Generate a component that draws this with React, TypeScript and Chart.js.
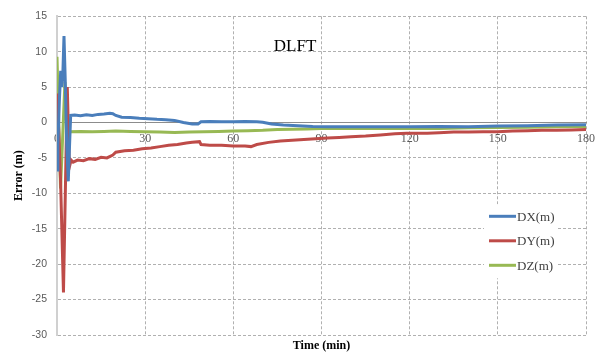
import React, { useEffect, useRef } from "react";
import { Chart, registerables } from "chart.js";

Chart.register(...registerables);

// ---- Data (time in minutes, error in metres) ----
const dxTime = [0, 0.3, 0.8, 1.26, 1.6, 2.0, 2.38, 2.8, 3.3, 3.84, 4.2, 4.65, 6, 8, 10, 12, 14, 16, 18, 19, 20, 22, 25, 28, 31, 34, 37, 40, 43, 46, 48, 49, 52, 56, 60, 64, 68, 70, 73, 77, 82, 87, 92, 100, 110, 120, 130, 140, 150, 160, 170, 180];
const dxValues = [-6.7, -3, 3, 7.3, 5, 7, 12.2, 6, -3, -8.3, -4, 1.0, 1.05, 0.95, 1.1, 1.0, 1.15, 1.2, 1.3, 1.25, 1.0, 0.75, 0.7, 0.6, 0.55, 0.45, 0.4, 0.3, 0.0, -0.2, -0.2, 0.1, 0.15, 0.1, 0.1, 0.15, 0.1, 0.05, -0.2, -0.35, -0.45, -0.55, -0.6, -0.6, -0.6, -0.6, -0.55, -0.6, -0.5, -0.45, -0.35, -0.3];

const dyTime = [0, 0.5, 1.2, 2.2, 3.5, 4.2, 4.8, 5.5, 7, 9, 11, 13, 15, 17, 19, 20, 23, 26, 29, 32, 35, 38, 41, 44, 46, 48.5, 49, 52, 56, 60, 64, 66, 68, 72, 76, 80, 84, 88, 92, 96, 100, 105, 110, 115, 119, 122, 126, 130, 135, 140, 145, 150, 155, 160, 165, 170, 175, 180];
const dyValues = [4.1, 0, -8, -24, 5.0, -6.3, -5.3, -5.6, -5.3, -5.4, -5.1, -5.2, -4.9, -5.0, -4.6, -4.2, -4.0, -3.9, -3.7, -3.6, -3.4, -3.2, -3.1, -2.9, -2.8, -2.7, -3.1, -3.2, -3.2, -3.3, -3.3, -3.4, -3.1, -2.8, -2.6, -2.5, -2.4, -2.3, -2.2, -2.1, -2.0, -1.9, -1.75, -1.6, -1.5, -1.5, -1.5, -1.45, -1.35, -1.35, -1.3, -1.3, -1.2, -1.15, -1.1, -1.1, -1.05, -1.0];

const dzTime = [0, 1.2, 2.7, 3.5, 4.4, 8, 12, 16, 20, 25, 30, 35, 40, 45, 50, 55, 60, 65, 70, 75, 80, 85, 90, 100, 110, 120, 130, 140, 150, 160, 170, 180];
const dzValues = [9.3, -9.3, 5.7, -2.7, -1.3, -1.25, -1.3, -1.25, -1.2, -1.25, -1.3, -1.35, -1.4, -1.35, -1.3, -1.25, -1.2, -1.15, -1.1, -1.0, -0.95, -0.9, -0.85, -0.85, -0.8, -0.85, -0.85, -0.75, -0.7, -0.65, -0.6, -0.55];

const seriesLabels = ["DX(m)", "DY(m)", "DZ(m)"];
const seriesColors = ["#4A7EBB", "#BE4B48", "#98B954"];
const chartTitle = "DLFT";
const xTitle = "Time (min)";
const yTitle = "Error (m)";

const toPoints = (t: number[], v: number[]) => t.map((x, i) => ({ x, y: v[i] }));

const overlayPlugin = {
  id: "overlay",
  afterDraw(chart: any) {
    const ctx = chart.ctx;
    const ca = chart.chartArea;
    const xs = chart.scales.x;
    const ys = chart.scales.y;
    ctx.save();
    // In-plot title
    ctx.fillStyle = "#000";
    ctx.font = "17px 'Liberation Serif'";
    ctx.textAlign = "center";
    ctx.textBaseline = "middle";
    ctx.fillText(chartTitle, xs.getPixelForValue(81), ys.getPixelForValue(10.8));

    // Axis titles
    ctx.font = "bold 12px 'Liberation Serif'";
    ctx.fillText(xTitle, (ca.left + ca.right) / 2, ca.bottom + 11);
    ctx.save();
    ctx.translate(19, (ca.top + ca.bottom) / 2);
    ctx.rotate(-Math.PI / 2);
    ctx.fillText(yTitle, 0, 0);
    ctx.restore();

    // Legend
    const bx = ca.right - 102;
    const by = ca.top + 188;
    ctx.fillStyle = "#fff";
    ctx.fillRect(bx, by, 72, 74);
    ctx.font = "13px 'Liberation Serif'";
    ctx.textAlign = "left";
    seriesLabels.forEach((lab, i) => {
      const y = by + 12 + i * 24.5;
      ctx.strokeStyle = seriesColors[i];
      ctx.lineWidth = 3;
      ctx.beginPath();
      ctx.moveTo(bx + 5, y);
      ctx.lineTo(bx + 32, y);
      ctx.stroke();
      ctx.fillStyle = "#404040";
      ctx.fillText(lab, bx + 33, y + 1);
    });
    ctx.restore();
  },
};

export default function App() {
  const ref = useRef<HTMLCanvasElement | null>(null);
  useEffect(() => {
    if (!ref.current) return;
    const mk = (i: number, t: number[], v: number[]) => ({
      label: seriesLabels[i],
      data: toPoints(t, v),
      borderColor: seriesColors[i],
      backgroundColor: seriesColors[i],
      borderWidth: 3,
      pointRadius: 0,
      tension: 0,
      fill: false,
    });
    const chart = new Chart(ref.current, {
      type: "line",
      data: {
        datasets: [mk(0, dxTime, dxValues), mk(1, dyTime, dyValues), mk(2, dzTime, dzValues)],
      },
      options: {
        animation: false,
        responsive: false,
        layout: { padding: { left: 0, right: 17, top: 15, bottom: 18 } },
        plugins: { legend: { display: false }, tooltip: { enabled: false } },
        scales: {
          x: {
            type: "linear",
            position: { y: 0 } as any,
            min: 0,
            max: 180,
            ticks: {
              stepSize: 30,
              color: "#595959",
              font: { family: "'Liberation Serif'", size: 12 },
              padding: 9,
              maxRotation: 0,
            },
            grid: {
              color: "#b0b0b0",
              drawTicks: false,
            } as any,
            border: { display: true, color: "#8c8c8c", width: 1, dash: [3, 2] } as any,
          },
          y: {
            type: "linear",
            min: -30,
            max: 15,
            afterFit: (s: any) => {
              s.width = 57;
            },
            ticks: {
              stepSize: 5,
              color: "#595959",
              font: { family: "'Liberation Sans'", size: 10.5 },
              padding: 10,
            },
            grid: { color: "#b0b0b0", drawTicks: false } as any,
            border: { display: true, color: "#d0d0d0", width: 2, dash: [3, 2] } as any,
          },
        },
      },
      plugins: [overlayPlugin],
    });
    return () => chart.destroy();
  }, []);
  return (
    <div style={{ position: "fixed", left: 0, top: 0, width: 604, height: 353, background: "#fff" }}>
      <canvas ref={ref} width={604} height={353} />
    </div>
  );
}
